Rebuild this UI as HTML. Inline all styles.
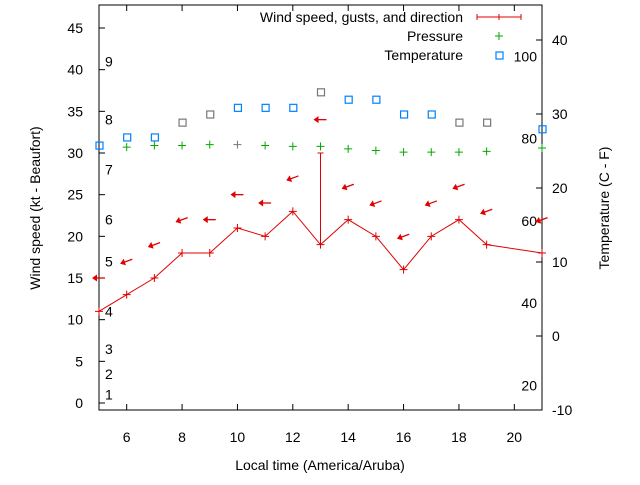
<!DOCTYPE html>
<html><head><meta charset="utf-8"><style>
body{margin:0;background:#fff}
svg text{font-family:"Liberation Sans",sans-serif;font-size:14px;fill:#000}
</style></head><body>
<svg id="c" width="640" height="480" xmlns="http://www.w3.org/2000/svg"></svg>
<script>
const hours=[5,6,7,8,9,10,11,12,13,14,15,16,17,18,19,21];
const windSpeed=[11,13,15,18,18,21,20,23,19,22,20,16,20,22,19,18];
const gustHour=[13];
const gustValue=[30];
const dirSpeed=[15,17,19,22,22,25,24,27,34,26,24,20,24,26,23,22];
const dirDeg=[90,70,70,70,90,90,90,70,90,70,70,70,70,70,70,70];
const pressure=[null,30.7,30.9,30.9,31,31,30.9,30.8,30.8,30.5,30.3,30.1,30.1,30.1,30.2,30.6];
const pressureGray=[false,false,false,false,false,true,false,false,false,false,false,false,false,false,false,false];
const tempC=[25.8,26.9,26.9,28.9,30,30.9,30.9,30.9,33,32,32,30,30,28.9,28.9,28];
const tempGray=[false,false,false,true,true,false,false,false,true,false,false,false,false,true,true,false];
const xTicks=[6,8,10,12,14,16,18,20];
const yTicks=[0,5,10,15,20,25,30,35,40,45];
const y2Ticks=[-10,0,10,20,30,40];
const beaufort=[1,2,3,4,5,6,7,8,9];
const beaufortKt=[1,3.5,6.5,11,17,22,28,34,41];
const fLabels=[20,40,60,80,100];

const L=99,R=542,T=5,B=410;
const X=h=>L+(h-5)*(R-L)/16;
const Y=v=>403-v*(403-28)/45;
const Y2=c=>410-(c+10)*7.4;
const svg=document.getElementById('c');
const NS='http://www.w3.org/2000/svg';
function mk(tag,attrs,parent){const e=document.createElementNS(NS,tag);for(const k in attrs)e.setAttribute(k,attrs[k]);(parent||svg).appendChild(e);return e;}
function txt(x,y,s,anchor,name){const t=mk('text',{x:x,y:y,'text-anchor':anchor||'start'});t.textContent=s;


return t;}

const frame=mk('rect',{x:L,y:T,width:R-L,height:B-T,fill:'none',stroke:'#000','stroke-width':1});


xTicks.forEach(h=>{mk('line',{x1:X(h),x2:X(h),y1:B,y2:B-6,stroke:'#000'});mk('line',{x1:X(h),x2:X(h),y1:T,y2:T+6,stroke:'#000'});txt(X(h),442,h,'middle','x-tick-label');});
yTicks.forEach(v=>{mk('line',{x1:L,x2:L+6,y1:Y(v),y2:Y(v),stroke:'#000'});txt(83,Y(v)+5,v,'end','y-tick-label');});
y2Ticks.forEach(v=>{mk('line',{x1:R,x2:R-6,y1:Y2(v),y2:Y2(v),stroke:'#000'});txt(552,Y2(v)+5,v,'start','y2-tick-label');});
beaufort.forEach((b,i)=>txt(105,Y(beaufortKt[i])+5,b,'start','beaufort-label'));
fLabels.forEach(f=>txt(537,Y2((f-32)*5/9)+5,f,'end','fahrenheit-label'));

txt(320,470,'Local time (America/Aruba)','middle','x-axis-title');
const yt=txt(0,0,'Wind speed (kt - Beaufort)','middle','y-axis-title');yt.setAttribute('transform','translate(40,208) rotate(-90)');
const yt2=txt(0,0,'Temperature (C - F)','middle','y2-axis-title');yt2.setAttribute('transform','translate(609,208) rotate(-90)');

const pts=hours.map((h,i)=>X(h)+','+Y(windSpeed[i])).join(' ');
const wl=mk('polyline',{points:pts,fill:'none',stroke:'#e00000','stroke-width':1});


hours.forEach((h,i)=>{const x=X(h),y=Y(windSpeed[i]);mk('path',{d:`M${x-4},${y}h8M${x},${y-4}v8`,stroke:'#e00000'});});
gustHour.forEach((h,i)=>{const x=X(h);const g=mk('path',{d:`M${x},${Y(windSpeed[hours.indexOf(h)])}V${Y(gustValue[i])}M${x-3},${Y(gustValue[i])}h6`,stroke:'#e00000'});

});
hours.forEach((h,i)=>{const x=X(h),y=Y(dirSpeed[i]);const a=(dirDeg[i]-90)*Math.PI/180;
const dx=Math.cos(a)*6,dy=Math.sin(a)*6;
const g=mk('g',{});


mk('line',{x1:x-dx,y1:y-dy,x2:x+dx,y2:y+dy,stroke:'#e00000','stroke-width':1.3},g);
mk('path',{d:`M${x-dx-1},${y-dy}l5,-3.5v7z`,fill:'#e00000',transform:`rotate(${dirDeg[i]-90},${x-dx},${y-dy})`},g);});
hours.forEach((h,i)=>{if(pressure[i]==null)return;const x=X(h),y=Y(pressure[i]);const p=mk('path',{d:`M${x-4},${y}h8M${x},${y-4}v8`,stroke:pressureGray[i]?'#777':'#00aa00'});

});
hours.forEach((h,i)=>{const x=X(h),y=Y2(tempC[i]);const r=mk('rect',{x:x-3,y:y-3,width:7,height:7,fill:'none',stroke:tempGray[i]?'#777':'#0080ff','stroke-width':1.2});

});
txt(463,22,'Wind speed, gusts, and direction','end','legend-wind');
mk('path',{d:'M477,17h44M477,14v6M521,14v6M499,14v6',stroke:'#e00000'});
txt(463,41,'Pressure','end','legend-pressure');
mk('path',{d:'M495,36h8M499,32v8',stroke:'#00aa00'});
txt(463,60,'Temperature','end','legend-temperature');
mk('rect',{x:496,y:52,width:7,height:7,fill:'none',stroke:'#0080ff','stroke-width':1.2});
</script>
</body></html>
